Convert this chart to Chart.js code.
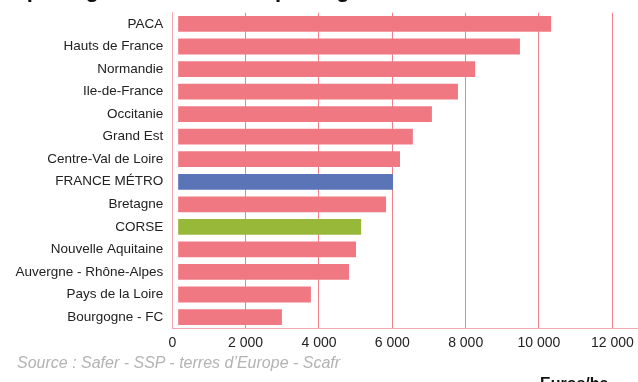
<!DOCTYPE html>
<html>
<head>
<meta charset="utf-8">
<script src="https://cdn.jsdelivr.net/npm/chart.js"></script>
<style>
  body { margin: 0; width: 638px; height: 382px; overflow: hidden; position: relative; background: #fff; font-family: "Liberation Sans", Arial, sans-serif; }
  #chart { position: absolute; left: 0; top: 0; }
  #title { position: absolute; left: -5px; top: -21px; font-size: 22px; line-height: 22px; font-weight: bold; color: #111; white-space: nowrap; }
  #source { position: absolute; left: 17px; top: 355px; font-size: 16px; line-height: 16px; font-style: italic; color: #b3b3b3; white-space: nowrap; }
  #unit { position: absolute; left: 540px; top: 376px; font-size: 16px; line-height: 16px; font-weight: bold; color: #111; white-space: nowrap; }
</style>
</head>
<body>
<canvas id="chart" width="638" height="382"></canvas>
<div id="title">Le prix agricole des terres par région</div>
<div id="source">Source : Safer - SSP - terres d’Europe - Scafr</div>
<div id="unit">Euros/ha</div>
<script>
const regions = [
  "PACA", "Hauts de France", "Normandie", "Ile-de-France", "Occitanie",
  "Grand Est", "Centre-Val de Loire", "FRANCE MÉTRO", "Bretagne", "CORSE",
  "Nouvelle Aquitaine", "Auvergne - Rhône-Alpes", "Pays de la Loire", "Bourgogne - FC"
];
const prices = [10330, 9480, 8260, 7790, 7080, 6560, 6210, 6020, 5830, 5150, 5010, 4820, 3780, 2990];
const xTicks = [0, 2000, 4000, 6000, 8000, 10000, 12000];

const pink = "#f07882";
const gridPink = "#f0808c";
const axisPink = "#f4aab2";

function barColor(label) {
  if (label === "FRANCE MÉTRO") return "#5b74b8";
  if (label === "CORSE") return "#98b839";
  return pink;
}

function formatNumber(v) {
  return String(v).replace(/\B(?=(\d{3})+(?!\d))/g, " ");
}

new Chart(document.getElementById("chart"), {
  type: "bar",
  data: {
    labels: regions,
    datasets: [
      {
        data: prices,
        base: 160,
        backgroundColor: regions.map(barColor),
        barPercentage: 0.7,
        categoryPercentage: 1,
      },
    ],
  },
  options: {
    indexAxis: "y",
    responsive: false,
    animation: false,
    layout: { padding: { top: 12.7, left: 0, right: 0, bottom: 0 } },
    plugins: {
      legend: { display: false },
      tooltip: { enabled: false },
    },
    scales: {
      x: {
        min: 0,
        max: 12700,
        afterBuildTicks: (scale) => {
          scale.ticks = xTicks.map((v) => ({ value: v }));
        },
        afterFit: (scale) => {
          scale.height = 53.7;
          scale.paddingRight = 0;
        },
        grid: {
          drawTicks: false,
          color: (c) => (c.tick && c.tick.value === 0 ? "rgba(0,0,0,0)" : gridPink),
          lineWidth: 1,
        },
        border: { color: axisPink, width: 1 },
        ticks: {
          padding: 6,
          color: "#222",
          font: { family: "Liberation Sans", size: 14 },
          callback: (v) => formatNumber(v),
        },
      },
      y: {
        afterFit: (scale) => {
          scale.width = 172.3;
          scale.paddingTop = 0;
          scale.paddingBottom = 0;
        },
        grid: { display: false, drawTicks: false },
        border: { color: axisPink, width: 1 },
        ticks: {
          padding: 9,
          color: "#222",
          font: { family: "Liberation Sans", size: 13.5 },
        },
      },
    },
  },
});
</script>
</body>
</html>
